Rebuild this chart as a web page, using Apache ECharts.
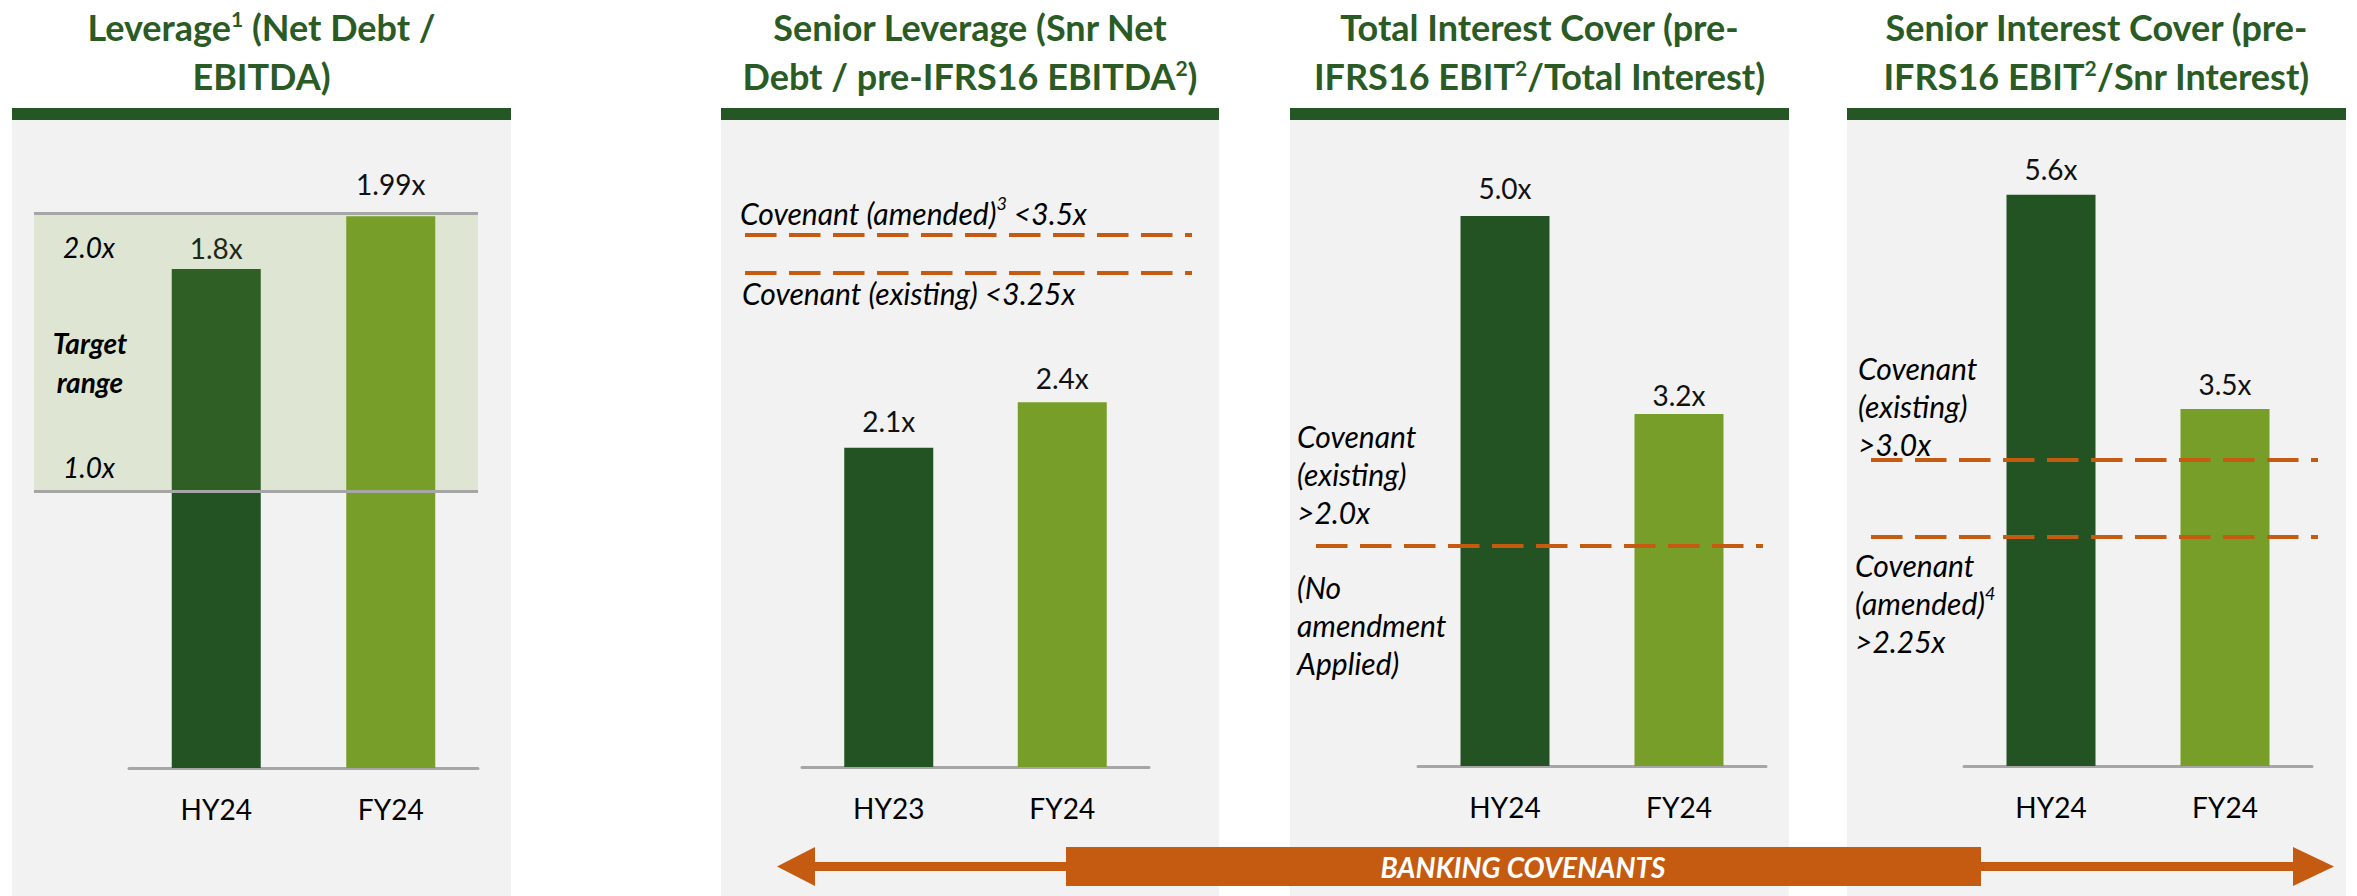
<!DOCTYPE html>
<html>
<head>
<meta charset="utf-8">
<title>Leverage and banking covenants</title>
<script src="https://cdn.jsdelivr.net/npm/echarts@6/dist/echarts.min.js"></script>
<style>
  html, body { margin: 0; padding: 0; background: #fff; }
  #chart { width: 2357px; height: 896px; }
</style>
</head>
<body>
<div id="chart"></div>
<script>
// ===== data =====
var levCats = ['HY24', 'FY24'];
var levVals = [1.8, 1.99];
var levTarget = [1.0, 2.0];

var snrLevCats = ['HY23', 'FY24'];
var snrLevVals = [2.1, 2.4];
var snrLevCov = [3.5, 3.25];      // amended, existing

var totIntCats = ['HY24', 'FY24'];
var totIntVals = [5.0, 3.2];
var totIntCov = [2.0];            // existing (no amendment)

var snrIntCats = ['HY24', 'FY24'];
var snrIntVals = [5.6, 3.5];
var snrIntCov = [3.0, 2.25];      // existing, amended

(function() {
  'use strict';

  var FONT = 'Lato, "Noto Sans", sans-serif';
  var darkGreen = '#235323';
  var lightGreen = '#779E29';
  var orange = '#C55A11';
  var panelBg = '#F2F2F2';
  var grey = '#A6A6A6';
  var titleGreen = '#2A5B25';
  var ink = '#111111';

  function fmt(v) {
    return Math.abs(Math.round(v * 10) - v * 10) < 1e-9 ? v.toFixed(1) : v.toFixed(2);
  }

  // superscripts are raised with bottom padding instead of top alignment
  var titleRich = {
    t: { fontSize: 36, fontWeight: 'bold', color: titleGreen, fontFamily: FONT, lineHeight: 49 },
    s: { fontSize: 21, fontWeight: 'bold', color: titleGreen, fontFamily: FONT, lineHeight: 21,
      padding: [0, 0, 16, 0], verticalAlign: 'middle' }
  };
  var noteRich = {
    s: { fontSize: 18, fontStyle: 'italic', color: '#000', fontFamily: FONT, lineHeight: 30, verticalAlign: 'top' }
  };

  var dashStyle = { color: orange, width: 4, type: [31.5, 12.5], cap: 'butt' };
  var hidden = { color: 'rgba(0,0,0,0)', width: 0 };

  // layout per panel: box = panel bg, grid = bar area, ref = reference line extent
  var panels = [
    { title: '{t|Leverage}{s|1}{t| (Net Debt /}\n{t|EBITDA)}',
      cats: levCats, vals: levVals, box: [12, 511], grid: [129, 349], ref: [34, 478],
      top: 75, base: 768, max: 2.5, gap: [7, 18] },
    { title: '{t|Senior Leverage (Snr Net}\n{t|Debt / pre-IFRS16 EBITDA}{s|2}{t|)}',
      cats: snrLevCats, vals: snrLevVals, box: [721, 1219], grid: [802, 347], ref: [745, 1192],
      top: 159, base: 767, max: 4, gap: [13, 10] },
    { title: '{t|Total Interest Cover (pre-}\n{t|IFRS16 EBIT}{s|2}{t|/Total Interest)}',
      cats: totIntCats, vals: totIntVals, box: [1290, 1789], grid: [1418, 348], ref: [1316, 1763],
      top: 106, base: 766, max: 6, gap: [14, 5] },
    { title: '{t|Senior Interest Cover (pre-}\n{t|IFRS16 EBIT}{s|2}{t|/Snr Interest)}',
      cats: snrIntCats, vals: snrIntVals, box: [1847, 2346], grid: [1964, 348], ref: [1871, 2318],
      top: 154, base: 766, max: 6, gap: [12, 11] }
  ];

  // reference lines / notes for each panel
  var refLines = [
    [
      { yAxis: levTarget[1], lineStyle: { color: grey, width: 3, type: 'solid' },
        label: { position: 'insideStartBottom', distance: [29, 14], formatter: fmt(levTarget[1]) + 'x' } },
      { yAxis: levTarget[0], lineStyle: { color: grey, width: 3, type: 'solid' },
        label: { position: 'insideStartTop', distance: [29, 5], formatter: fmt(levTarget[0]) + 'x' } }
    ],
    [
      { yAxis: snrLevCov[0], label: { position: 'insideStartTop', distance: [-5, 3],
        formatter: 'Covenant (amended){s|3} <' + fmt(snrLevCov[0]) + 'x' } },
      { yAxis: snrLevCov[1], label: { position: 'insideStartBottom', distance: [-3, 1],
        formatter: 'Covenant (existing) <' + fmt(snrLevCov[1]) + 'x' } }
    ],
    [
      { yAxis: totIntCov[0], label: { position: 'insideStartTop', distance: [-19, 15],
        formatter: 'Covenant\n(existing)\n>' + fmt(totIntCov[0]) + 'x' } },
      { yAxis: totIntCov[0], lineStyle: hidden, label: { position: 'insideStartBottom', distance: [-19, 22],
        formatter: '(No\namendment\nApplied)' } }
    ],
    [
      { yAxis: snrIntCov[0], label: { position: 'insideStartTop', distance: [-13, -3],
        formatter: 'Covenant\n(existing)\n>' + fmt(snrIntCov[0]) + 'x' } },
      { yAxis: snrIntCov[1], label: { position: 'insideStartBottom', distance: [-16, 9],
        formatter: 'Covenant\n(amended){s|4}\n>' + fmt(snrIntCov[1]) + 'x' } }
    ]
  ];

  var titles = [], grids = [], xAxes = [], yAxes = [], series = [], graphics = [];

  panels.forEach(function(p) {
    graphics.push({ type: 'rect', z: -10, shape: { x: p.box[0], y: 120, width: p.box[1] - p.box[0], height: 776 },
      style: { fill: panelBg } });
    graphics.push({ type: 'rect', z: -9, shape: { x: p.box[0], y: 108, width: p.box[1] - p.box[0], height: 12 },
      style: { fill: '#245724' } });
    titles.push({
      text: p.title, left: (p.box[0] + p.box[1]) / 2, top: 2, padding: 0, textAlign: 'center',
      textStyle: { fontSize: 36, fontWeight: 'bold', color: titleGreen, fontFamily: FONT, lineHeight: 49, rich: titleRich }
    });
  });

  // bar grids 0..3
  panels.forEach(function(p, i) {
    grids.push({ left: p.grid[0], width: p.grid[1], top: p.top, height: p.base - p.top });
    xAxes.push({
      type: 'category', gridIndex: i, data: p.cats,
      axisLine: { lineStyle: { color: grey, width: 3 } },
      axisTick: { show: false },
      axisLabel: { color: '#000', fontSize: 28, fontFamily: FONT, margin: 27 }
    });
    yAxes.push({ type: 'value', gridIndex: i, min: 0, max: p.max, show: false, splitLine: { show: false } });
    series.push({
      type: 'bar', xAxisIndex: i, yAxisIndex: i, barWidth: 89, silent: true,
      data: p.vals.map(function(v, j) {
        return { value: v, itemStyle: { color: j === 0 ? darkGreen : lightGreen }, label: { distance: p.gap[j] } };
      }),
      label: { show: true, position: 'top', color: ink, fontSize: 28, fontFamily: FONT,
        formatter: function(q) { return fmt(q.value) + 'x'; } }
    });
  });

  // reference-line grids 4..7 (same vertical scale, own horizontal extent)
  panels.forEach(function(p, i) {
    grids.push({ left: p.ref[0], width: p.ref[1] - p.ref[0], top: p.top, height: p.base - p.top });
    xAxes.push({ type: 'value', gridIndex: i + 4, min: 0, max: 1, show: false, splitLine: { show: false } });
    yAxes.push({ type: 'value', gridIndex: i + 4, min: 0, max: p.max, show: false, splitLine: { show: false } });
    var s = {
      type: 'line', xAxisIndex: i + 4, yAxisIndex: i + 4, data: [], silent: true,
      markLine: {
        silent: true, symbol: ['none', 'none'], z: 5,
        lineStyle: dashStyle,
        label: { show: true, color: '#000', fontSize: 30, fontStyle: 'italic', fontFamily: FONT,
          lineHeight: 38, rich: noteRich },
        data: refLines[i]
      }
    };
    if (i === 0) {
      s.markLine.label.fontSize = 28;
      s.markArea = {
        silent: true, z: 3,
        itemStyle: { color: 'rgba(113,158,42,0.155)' },
        label: { show: true, position: [56, 149], align: 'center', verticalAlign: 'middle',
          color: '#000', fontSize: 28, fontStyle: 'italic', fontWeight: 'bold', fontFamily: FONT, lineHeight: 39,
          formatter: 'Target\nrange' },
        data: [[{ yAxis: levTarget[0] }, { yAxis: levTarget[1] }]]
      };
    }
    series.push(s);
  });

  // banking covenants banner (double-headed arrow)
  graphics.push({
    type: 'polygon', z: 5,
    shape: { points: [
      [777, 866.5], [815, 847], [815, 862], [1066, 862], [1066, 847], [1981, 847], [1981, 862],
      [2293, 862], [2293, 847], [2334, 866.5], [2293, 886], [2293, 871], [1981, 871], [1981, 886],
      [1066, 886], [1066, 871], [815, 871], [815, 886]
    ] },
    style: { fill: orange }
  });
  graphics.push({
    type: 'text', z: 6, x: 1523, y: 867,
    style: { text: 'BANKING COVENANTS', fill: '#fff', font: 'italic bold 28px ' + FONT,
      align: 'center', verticalAlign: 'middle', textAlign: 'center', textVerticalAlign: 'middle' }
  });

  var chart = echarts.init(document.getElementById('chart'), null, { renderer: 'svg' });
  chart.setOption({
    animation: false,
    backgroundColor: '#fff',
    title: titles,
    grid: grids,
    xAxis: xAxes,
    yAxis: yAxes,
    series: series,
    graphic: graphics
  });
  window.addEventListener('resize', function() { chart.resize(); });
})();
</script>
</body>
</html>
